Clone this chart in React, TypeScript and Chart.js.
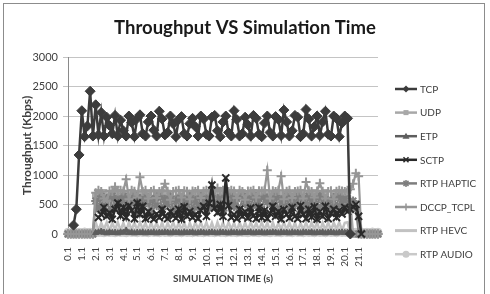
import React, { useEffect, useRef } from "react";
import { Chart, registerables } from "chart.js";

Chart.register(...registerables);

// ---------- DATA ----------
const CATEGORIES = [
  "0.1", "0.3", "0.5", "0.7", "0.9", "1.1", "1.3", "1.5", "1.7", "1.9",
  "2.1", "2.3", "2.5", "2.7", "2.9", "3.1", "3.3", "3.5", "3.7", "3.9",
  "4.1", "4.3", "4.5", "4.7", "4.9", "5.1", "5.3", "5.5", "5.7", "5.9",
  "6.1", "6.3", "6.5", "6.7", "6.9", "7.1", "7.3", "7.5", "7.7", "7.9",
  "8.1", "8.3", "8.5", "8.7", "8.9", "9.1", "9.3", "9.5", "9.7", "9.9",
  "10.1", "10.3", "10.5", "10.7", "10.9", "11.1", "11.3", "11.5", "11.7", "11.9",
  "12.1", "12.3", "12.5", "12.7", "12.9", "13.1", "13.3", "13.5", "13.7", "13.9",
  "14.1", "14.3", "14.5", "14.7", "14.9", "15.1", "15.3", "15.5", "15.7", "15.9",
  "16.1", "16.3", "16.5", "16.7", "16.9", "17.1", "17.3", "17.5", "17.7", "17.9",
  "18.1", "18.3", "18.5", "18.7", "18.9", "19.1", "19.3", "19.5", "19.7", "19.9",
  "20.1", "20.3", "20.5", "20.7", "20.9", "21.1", "21.3", "21.5", "21.7", "21.9",
  "22.1", "22.3", "22.5",
];

const X_TICK_LABELS = [
  "0.1", "1.1", "2.1", "3.1", "4.1", "5.1", "6.1", "7.1", "8.1", "9.1", "10.1",
  "11.1", "12.1", "13.1", "14.1", "15.1", "16.1", "17.1", "18.1", "19.1", "20.1", "21.1",
];

const Y_TICKS = [0, 500, 1000, 1500, 2000, 2500, 3000];

const TCP = [
  null, null, 150, 420, 1340, 2090, 1650, 1830, 2420, 1660,
  2190, 1680, 2060, 1660, 1980, 1840, 1700, 2010, 1660, 1930,
  1750, 1660, 2000, 1890, 1650, 1960, 2020, 1700, 1660, 1900,
  2000, 1760, 1660, 2080, 1950, 1680, 1720, 2000, 1870, 1650,
  1940, 1990, 1700, 1660, 1870, 1960, 1820, 1660, 2000, 1950,
  1690, 1660, 1980, 2010, 1750, 1650, 1900, 2000, 1720, 1660,
  2090, 1940, 1660, 1700, 1980, 1850, 1660, 2010, 1960, 1690,
  1650, 1880, 2000, 1720, 1660, 1990, 1940, 1670, 2100, 1900,
  1660, 1750, 2010, 1980, 1650, 1700, 2110, 1950, 1660, 1820,
  2000, 1670, 1900, 2080, 1690, 1660, 2000, 1960, 1650, 1880,
  2000, 1960, 0, null, null, null, null, null, null, null,
  null, null, null,
];

const UDP = [
  0, 0, 0, 0, 0, 0, 0, 0, 0, 0,
  650, 690, 600, 700, 640, 560, 690, 620, 700, 580,
  690, 640, 600, 700, 560, 680, 650, 700, 610, 690,
  440, 600, 690, 650, 700, 580, 690, 630, 420, 380,
  620, 700, 400, 430, 690, 560, 700, 640, 690, 600,
  700, 620, 690, 580, 650, 700, 380, 690, 640, 700,
  560, 690, 650, 700, 600, 680, 640, 700, 590, 690,
  650, 700, 600, 690, 560, 700, 640, 690, 610, 700,
  650, 560, 690, 620, 700, 450, 380, 690, 640, 700,
  600, 690, 650, 700, 560, 430, 620, 700, 640, 690,
  650, 600, 520, 0, 0, 0, 0, 0, 0, 0,
  0, 0, 0,
];

const ETP = [
  null, null, null, null, null, null, null, null, null, null,
  20, 30, 45, 25, 15, 30, 20, 25, 15, 30,
  25, 60, 20, 30, 15, 25, 20, 30, 15, 25,
  20, 30, 15, 25, 20, 30, 25, 15, 30, 20,
  25, 15, 30, 20, 25, 30, 15, 20, 30, 25,
  15, 25, 30, 20, 15, 30, 25, 20, 15, 30,
  20, 25, 15, 30, 20, 25, 30, 15, 25, 20,
  30, 15, 25, 20, 30, 25, 15, 30, 20, 25,
  15, 30, 20, 25, 15, 30, 25, 20, 30, 15,
  25, 20, 30, 15, 25, 30, 20, 15, 25, 30,
  20, 25, 0, null, null, null, null, null, null, null,
  null, null, null,
];

const SCTP = [
  null, null, null, null, null, null, null, null, null, null,
  null, 280, 330, 450, 300, 360, 250, 420, 525, 310,
  450, 280, 480, 400, 260, 525, 330, 470, 260, 380,
  300, 250, 340, 280, 420, 300, 260, 380, 310, 270,
  420, 250, 460, 300, 380, 280, 330, 260, 400, 470,
  300, 520, 830, 440, 360, 500, 300, 950, 480, 280,
  330, 260, 420, 300, 380, 270, 440, 310, 260, 450,
  280, 400, 260, 350, 470, 300, 380, 250, 420, 330,
  270, 450, 300, 260, 480, 330, 260, 420, 290, 460,
  250, 380, 300, 470, 260, 350, 420, 280, 400, 340,
  450, 380, 420, 460, 500, 300, 0, null, null, null,
  null, null, null,
];

const RTP_HAPTIC = [
  0, 0, 0, 0, 0, 0, 0, 0, 0, 0,
  560, 420, 640, 480, 600, 380, 650, 450, 590, 500,
  640, 430, 580, 520, 650, 400, 600, 470, 630, 540,
  360, 610, 480, 650, 420, 590, 500, 640, 380, 560,
  620, 450, 600, 500, 650, 410, 580, 470, 640, 530,
  600, 430, 650, 490, 570, 620, 400, 600, 520, 650,
  460, 600, 380, 640, 510, 590, 450, 650, 480, 600,
  420, 630, 540, 600, 470, 650, 400, 580, 520, 640,
  450, 610, 500, 650, 380, 600, 470, 640, 530, 590,
  430, 650, 490, 600, 540, 380, 620, 470, 640, 500,
  600, 450, 480, 560, 420, 0, 0, 0, 0, 0,
  0, 0, 0,
];

const DCCP_TCPL = [
  0, 0, 0, 0, 0, 0, 0, 0, 0, 0,
  700, 740, 720, 600, 560, 730, 720, 800, 725, 740,
  730, 930, 590, 740, 725, 620, 960, 720, 740, 600,
  720, 740, 610, 720, 735, 850, 725, 580, 720, 730,
  740, 620, 735, 725, 590, 730, 720, 740, 610, 725,
  740, 730, 600, 735, 780, 725, 740, 590, 720, 740,
  730, 610, 740, 720, 580, 730, 725, 740, 620, 735,
  730, 740, 1080, 600, 735, 720, 740, 980, 590, 725,
  740, 610, 720, 730, 740, 600, 880, 735, 720, 620,
  730, 860, 725, 600, 720, 735, 590, 725, 740, 730,
  720, 740, 760, 850, 1030, 980, 0, 0, 0, 0,
  0, 0, 0,
];

const RTP_HEVC = [
  0, 0, 0, 0, 0, 0, 0, 0, 0, 0,
  200, 60, 190, 80, 200, 50, 195, 70, 200, 60,
  190, 50, 200, 70, 195, 60, 200, 80, 190, 50,
  200, 70, 195, 60, 200, 50, 190, 80, 200, 60,
  195, 70, 200, 50, 190, 60, 200, 80, 195, 70,
  200, 60, 190, 50, 200, 70, 195, 60, 200, 80,
  190, 50, 200, 70, 195, 60, 200, 80, 190, 60,
  200, 70, 195, 50, 200, 60, 190, 80, 200, 70,
  195, 60, 200, 50, 190, 70, 200, 60, 195, 80,
  200, 50, 190, 70, 200, 60, 195, 80, 200, 60,
  190, 200, 0, 0, 0, 0, 0, 0, 0, 0,
  0, 0, 0,
];

const RTP_AUDIO = [
  30, 20, 35, 25, 30, 20, 35, 25, 30, 20,
  35, 25, 30, 20, 35, 25, 30, 20, 35, 25,
  30, 20, 35, 25, 30, 20, 35, 25, 30, 20,
  35, 25, 30, 20, 35, 25, 30, 20, 35, 25,
  30, 20, 35, 25, 30, 20, 35, 25, 30, 20,
  35, 25, 30, 20, 35, 25, 30, 20, 35, 25,
  30, 20, 35, 25, 30, 20, 35, 25, 30, 20,
  35, 25, 30, 20, 35, 25, 30, 20, 35, 25,
  30, 20, 35, 25, 30, 20, 35, 25, 30, 20,
  35, 25, 30, 20, 35, 25, 30, 20, 35, 25,
  30, 20, 35, 25, 30, 20, 35, 25, 30, 20,
  35, 25, 30,
];

// ---------- STYLE ----------
const SERIES = [
  { label: "TCP", data: TCP, color: "#3c3c3c", point: "rectRot", radius: 5, width: 2.5, order: 0, legendW: 2.5 },
  { label: "UDP", data: UDP, color: "#a8a8a8", point: "rect", radius: 4.5, width: 2.5, order: 5, legendW: 2.5 },
  { label: "ETP", data: ETP, color: "#5e5e5e", point: "triangle", radius: 3.5, width: 2, order: 1, legendW: 2.5 },
  { label: "SCTP", data: SCTP, color: "#2a2a2a", point: "crossRot", radius: 5, width: 2.5, order: 2, legendW: 2.5 },
  { label: "RTP HAPTIC", data: RTP_HAPTIC, color: "#7e7e7e", point: "star", radius: 4.5, width: 2, order: 4, legendW: 2.5 },
  { label: "DCCP_TCPL", data: DCCP_TCPL, color: "#969696", point: "cross", radius: 4.5, width: 2.2, order: 3, legendW: 2.5 },
  { label: "RTP HEVC", data: RTP_HEVC, color: "#c2c2c2", point: "none", radius: 0, width: 2.5, order: 7, legendW: 3 },
  { label: "RTP AUDIO", data: RTP_AUDIO, color: "#c9c9c9", point: "circle", radius: 4, width: 3, order: 6, legendW: 2.5 },
];

const FONT = "Lato, 'Open Sans', sans-serif";
const TEXT = "#404040";

function drawMarker(ctx: CanvasRenderingContext2D, style: string, x: number, y: number, r: number, color: string) {
  ctx.save();
  ctx.fillStyle = color;
  ctx.strokeStyle = color;
  ctx.lineWidth = 1.5;
  ctx.beginPath();
  const d = r * 0.72;
  switch (style) {
    case "rectRot":
      ctx.moveTo(x, y - r); ctx.lineTo(x + r, y); ctx.lineTo(x, y + r); ctx.lineTo(x - r, y); ctx.closePath(); ctx.fill();
      break;
    case "rect":
      ctx.rect(x - d, y - d, 2 * d, 2 * d); ctx.fill();
      break;
    case "triangle":
      ctx.moveTo(x, y - r); ctx.lineTo(x + r, y + r * 0.7); ctx.lineTo(x - r, y + r * 0.7); ctx.closePath(); ctx.fill();
      break;
    case "crossRot":
      ctx.moveTo(x - d, y - d); ctx.lineTo(x + d, y + d); ctx.moveTo(x + d, y - d); ctx.lineTo(x - d, y + d); ctx.stroke();
      break;
    case "cross":
      ctx.moveTo(x, y - r); ctx.lineTo(x, y + r); ctx.moveTo(x - r, y); ctx.lineTo(x + r, y); ctx.stroke();
      break;
    case "star":
      ctx.moveTo(x, y - r); ctx.lineTo(x, y + r); ctx.moveTo(x - r, y); ctx.lineTo(x + r, y);
      ctx.moveTo(x - d, y - d); ctx.lineTo(x + d, y + d); ctx.moveTo(x + d, y - d); ctx.lineTo(x - d, y + d); ctx.stroke();
      break;
    case "circle":
      ctx.arc(x, y, r, 0, Math.PI * 2); ctx.fill();
      break;
    default:
      break;
  }
  ctx.restore();
}

const sideLegend = {
  id: "sideLegend",
  afterDraw(chart: any) {
    const { ctx, chartArea } = chart;
    const x0 = chartArea.right + 17;
    const y0 = chartArea.top + 32;
    const step = 23.6;
    SERIES.forEach((s, k) => {
      const y = y0 + k * step;
      ctx.save();
      ctx.strokeStyle = s.color;
      ctx.lineWidth = s.legendW;
      ctx.beginPath();
      ctx.moveTo(x0, y);
      ctx.lineTo(x0 + 22, y);
      ctx.stroke();
      ctx.restore();
      drawMarker(ctx, s.point, x0 + 11, y, 3.5, s.color);
      ctx.save();
      ctx.fillStyle = TEXT;
      ctx.font = `10px ${FONT}`;
      ctx.textBaseline = "middle";
      ctx.textAlign = "left";
      ctx.fillText(s.label, x0 + 25, y + 0.5);
      ctx.restore();
    });
  },
};

export default function App() {
  const ref = useRef<HTMLCanvasElement>(null);

  useEffect(() => {
    document.body.style.margin = "0";
    const chart = new Chart(ref.current as HTMLCanvasElement, {
      type: "line",
      data: {
        labels: CATEGORIES,
        datasets: SERIES.map((s) => ({
          label: s.label,
          data: s.data as any,
          yAxisID: "y",
          borderColor: s.color,
          backgroundColor: s.color,
          pointBackgroundColor: s.color,
          pointBorderColor: s.color,
          pointStyle: s.point === "none" ? "circle" : (s.point as any),
          pointRadius: s.radius,
          pointBorderWidth: s.point === "cross" || s.point === "crossRot" || s.point === "star" ? 2 : 1,
          borderWidth: s.width,
          order: s.order,
          clip: false as any,
          tension: 0,
          fill: false,
          spanGaps: false,
        })),
      },
      options: {
        responsive: false,
        animation: false,
        events: [],
        layout: { padding: 0 },
        plugins: {
          legend: { display: false },
          tooltip: { enabled: false },
          title: {
            display: true,
            text: "Throughput VS Simulation Time",
            color: "#1a1a1a",
            font: { family: FONT, size: 18.5, weight: "bold" },
            padding: { top: 16.5, bottom: 18.3 },
          },
        },
        scales: {
          x: {
            type: "category",
            grid: { display: false },
            border: { display: true, color: "#8a8a8a" },
            ticks: {
              autoSkip: false,
              maxRotation: 90,
              minRotation: 90,
              padding: 5,
              color: TEXT,
              font: { family: FONT, size: 10 },
              callback: (_v: any, i: number) => (X_TICK_LABELS.includes(CATEGORIES[i]) ? CATEGORIES[i] : ""),
            },
            title: {
              display: true,
              text: "SIMULATION TIME (s)",
              color: TEXT,
              font: { family: FONT, size: 10, weight: "bold" },
              padding: { top: 0, bottom: 9 },
            },
            afterFit: (s: any) => {
              s.height = 60;
            },
          },
          y: {
            type: "linear",
            position: "left",
            min: 0,
            max: 3000,
            afterBuildTicks: (s: any) => {
              s.ticks = Y_TICKS.map((v) => ({ value: v }));
            },
            grid: { color: "#c4c4c4", tickLength: 5, lineWidth: 1 },
            border: { display: true, color: "#8a8a8a" },
            ticks: {
              padding: 5,
              color: TEXT,
              font: { family: FONT, size: 11 },
              callback: (v: any) => String(v),
            },
            title: {
              display: true,
              text: "Throughput (Kbps)",
              color: TEXT,
              font: { family: FONT, size: 12, weight: "bold" },
              padding: { top: 20, bottom: 0 },
            },
            afterFit: (s: any) => {
              s.width = 68;
            },
          },
          legendSpace: {
            type: "linear",
            position: "right",
            display: true,
            grid: { display: false },
            border: { display: false },
            ticks: { display: false },
            afterFit: (s: any) => {
              s.width = 112;
            },
          },
        },
      },
      plugins: [sideLegend],
    });
    return () => chart.destroy();
  }, []);

  return (
    <div style={{ position: "fixed", left: 0, top: 0, width: 490, height: 294, background: "#fff", overflow: "hidden" }}>
      <canvas ref={ref} width={490} height={294} style={{ display: "block" }} />
      <div
        style={{
          position: "absolute",
          left: 3,
          top: 3,
          width: 480,
          height: 300,
          border: "1px solid #8c8c8c",
          pointerEvents: "none",
        }}
      />
    </div>
  );
}
